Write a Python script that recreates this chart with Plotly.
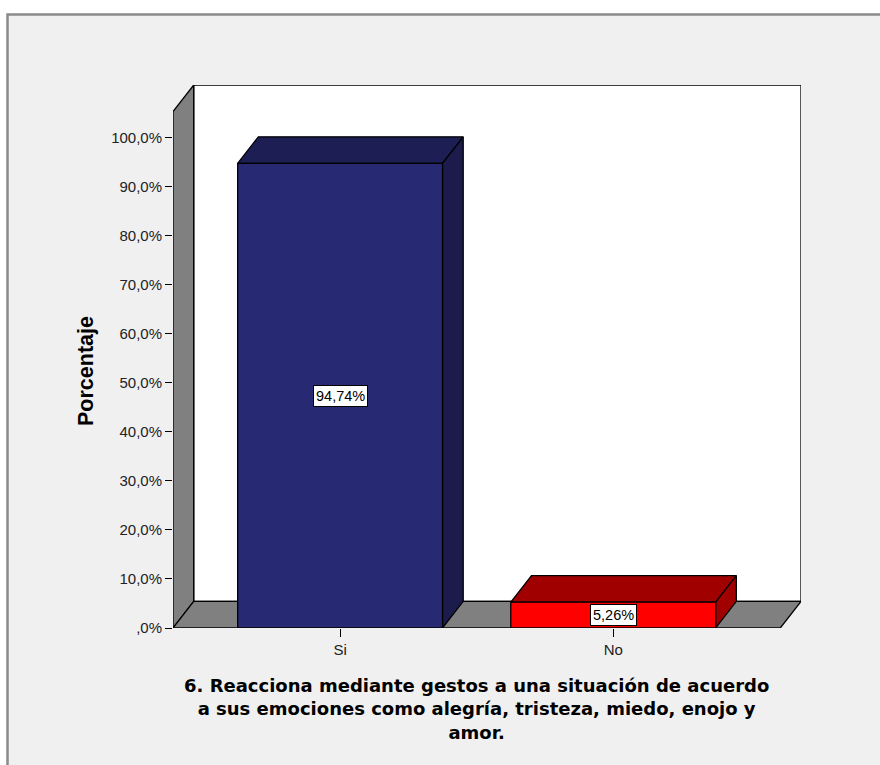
import plotly.graph_objects as go

# ---- data ----
categories = ["Si", "No"]
percentages = [94.74, 5.26]
value_labels = ["94,74%", "5,26%"]
y_tick_values = [0, 10, 20, 30, 40, 50, 60, 70, 80, 90, 100]
y_tick_labels = [",0%", "10,0%", "20,0%", "30,0%", "40,0%", "50,0%",
                 "60,0%", "70,0%", "80,0%", "90,0%", "100,0%"]
x_title_lines = ["6. Reacciona mediante gestos a una situación de acuerdo",
                 "a sus emociones como alegría, tristeza, miedo, enojo y",
                 "amor."]
y_title = "Porcentaje"

# ---- style / geometry ----
W, H = 880, 765
L, R, T, B = 173, 79, 85, 137
plot_w = W - L - R
plot_h = H - T - B
bar_w = 0.75
x_front_min, x_front_max = -0.6117, 1.6117
depth_px_x, depth_px_y = 20.7, 26.7
y_front_top = 105.3
x_unit_px = plot_w / (x_front_max - x_front_min + 0.0758)
dx = depth_px_x / x_unit_px
y_unit_px = 4.91
dy = depth_px_y / y_unit_px
x_range = [x_front_min, x_front_max + dx]
y_range = [0, y_front_top + dy]

front_cols = ["#272A72", "#FF0000"]
top_cols = ["#1D1E54", "#A00000"]
side_cols = ["#1C1C4C", "#A00000"]
wall_col = "#808080"
FONT = "Liberation Sans, Arial"
TITLE_FONT = "DejaVu Sans, Liberation Sans, Arial"

fig = go.Figure()


def poly(xs, ys, fill, line_w=1.3):
    fig.add_trace(go.Scatter(
        x=xs + [xs[0]], y=ys + [ys[0]], mode="lines", fill="toself",
        fillcolor=fill, line=dict(color="black", width=line_w),
        hoverinfo="skip", showlegend=False))


# back wall
poly([x_front_min + dx, x_front_max + dx, x_front_max + dx, x_front_min + dx],
     [dy, dy, y_front_top + dy, y_front_top + dy], "white")
# left side wall
poly([x_front_min, x_front_min + dx, x_front_min + dx, x_front_min],
     [0, dy, y_front_top + dy, y_front_top], wall_col)
# floor
poly([x_front_min, x_front_max, x_front_max + dx, x_front_min + dx],
     [0, 0, dy, dy], wall_col)

# bars
for i, (cat, v) in enumerate(zip(categories, percentages)):
    x0, x1 = i - bar_w / 2, i + bar_w / 2
    poly([x0, x1, x1 + dx, x0 + dx], [v, v, v + dy, v + dy], top_cols[i])
    poly([x1, x1 + dx, x1 + dx, x1], [0, dy, v + dy, v], side_cols[i])
    poly([x0, x1, x1, x0], [0, 0, v, v], front_cols[i])

annotations = []
for i, (v, lab) in enumerate(zip(percentages, value_labels)):
    annotations.append(dict(
        x=i, y=v / 2, xref="x", yref="y", text=lab, showarrow=False,
        font=dict(family=FONT, size=14.5, color="black"),
        bgcolor="white", bordercolor="black", borderwidth=1, borderpad=2))

annotations.append(dict(
    x=(476 - L) / plot_w, y=(H - B - 709) / plot_h, xref="paper", yref="paper",
    xanchor="center", yanchor="middle",
    text="<br>".join("<b>" + t + "</b>" for t in x_title_lines), showarrow=False,
    align="center", font=dict(family=TITLE_FONT, size=18, color="black")))

annotations.append(dict(
    x=(86 - L) / plot_w, y=(H - B - 371) / plot_h, xref="paper", yref="paper",
    xanchor="center", yanchor="middle", text="<b>" + y_title + "</b>",
    textangle=-90, showarrow=False,
    font=dict(family=FONT, size=21.5, color="black")))

shapes = [
    dict(type="rect", xref="paper", yref="paper", layer="below",
         x0=(7.5 - L) / plot_w, x1=(W + 10 - L) / plot_w,
         y0=(H - B - (H + 10)) / plot_h, y1=(H - B - 14.5) / plot_h,
         fillcolor="#F0F0F0", line=dict(color="#8A8A8A", width=2.5)),
]

fig.update_layout(
    width=W, height=H,
    margin=dict(l=L, r=R, t=T, b=B, pad=0),
    paper_bgcolor="white", plot_bgcolor="rgba(0,0,0,0)",
    showlegend=False,
    annotations=annotations,
    shapes=shapes,
    xaxis=dict(range=x_range, tickmode="array", tickvals=list(range(len(categories))),
               ticktext=categories, ticks="outside", ticklen=8, tickwidth=1.3,
               tickcolor="black", showgrid=False, zeroline=False, showline=False,
               tickfont=dict(family=FONT, size=15, color="#222"),
               fixedrange=True),
    yaxis=dict(range=y_range, tickmode="array", tickvals=y_tick_values,
               ticktext=y_tick_labels, ticks="outside", ticklen=7, tickwidth=1.3,
               tickcolor="black", showgrid=False, zeroline=False, showline=False,
               tickfont=dict(family=FONT, size=15, color="#222"),
               fixedrange=True),
)

fig.write_html("out.html", config={"displayModeBar": False},
               post_script="document.body.style.margin='0';")
